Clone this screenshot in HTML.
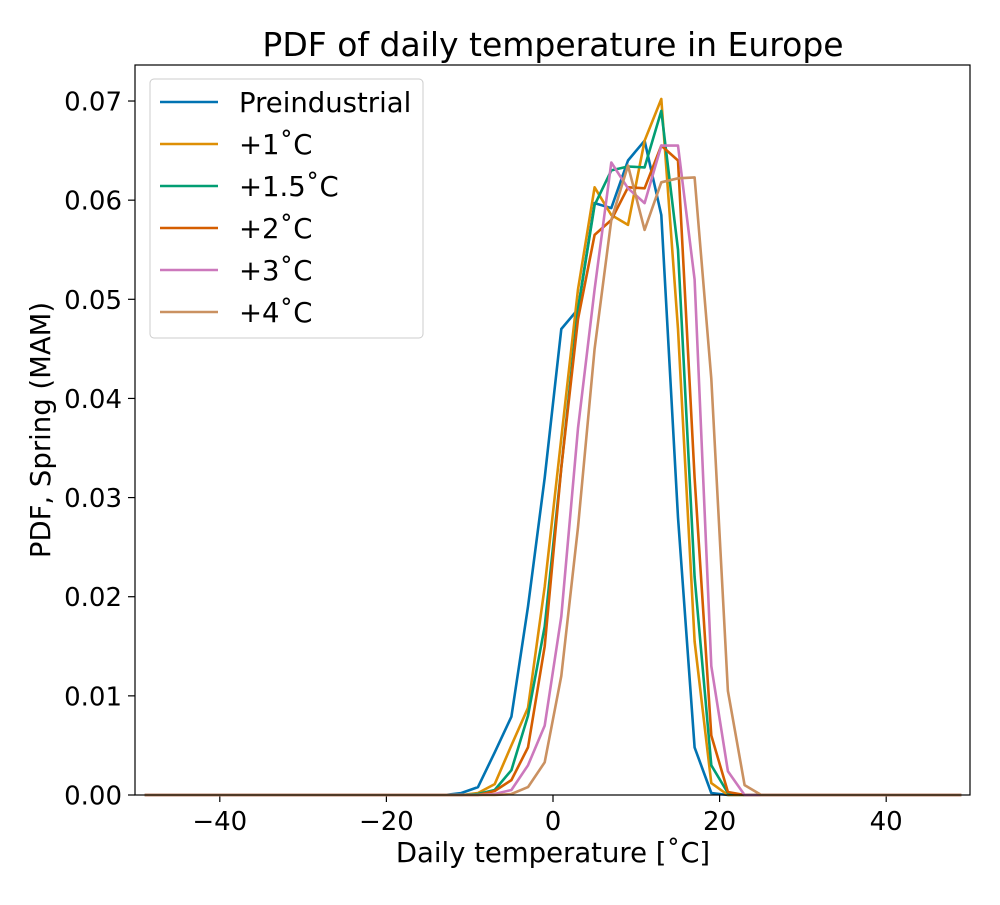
<!DOCTYPE html>
<html><head><meta charset="utf-8"><style>
body{margin:0;background:#fff;font-family:"Liberation Sans","DejaVu Sans",sans-serif;}
</style></head><body>
<svg id="chart" width="1000" height="900" font-family="DejaVu Sans, Liberation Sans, sans-serif">
<rect width="1000" height="900" fill="#fff"/>
<text x="553" y="56" font-size="33" text-anchor="middle">PDF of daily temperature in Europe</text>
<g id="ticks"></g>
<g id="lines"></g>
<rect x="135" y="65" width="835" height="730" fill="none" stroke="#000" stroke-width="1.2"/>
<text x="553" y="862" font-size="27.5" text-anchor="middle">Daily temperature [˚C]</text>
<text transform="translate(50,430) rotate(-90)" font-size="27.5" text-anchor="middle">PDF, Spring (MAM)</text>
<g id="legend"></g>
</svg>
<script>
const temps = [-11,-9,-7,-5,-3,-1,1,3,5,7,9,11,13,15,17,19,21,23,25];
const seriesNames = ["Preindustrial","+1˚C","+1.5˚C","+2˚C","+3˚C","+4˚C"];
const seriesColors = ["#0173b2","#de8f05","#029e73","#d55e00","#cc78bc","#ca9161"];
const preindustrial = [0.0002,0.0008,0.0043,0.0079,0.019,0.032,0.047,0.049,0.0597,0.0592,0.064,0.066,0.0585,0.028,0.0048,0.0002,0,0,0];
const plus1 = [0,0.0002,0.0011,0.005,0.0088,0.021,0.036,0.051,0.0613,0.0585,0.0575,0.066,0.0702,0.047,0.0155,0.0012,0,0,0];
const plus15 = [0,0.0001,0.0005,0.0025,0.008,0.017,0.033,0.049,0.0595,0.063,0.0634,0.0633,0.069,0.055,0.022,0.003,0.0002,0,0];
const plus2 = [0,0,0.0004,0.0015,0.0048,0.015,0.033,0.048,0.0565,0.058,0.0613,0.0612,0.0655,0.064,0.032,0.006,0.0003,0,0];
const plus3 = [0,0,0.0001,0.0005,0.003,0.007,0.018,0.037,0.051,0.0638,0.0612,0.0597,0.0655,0.0655,0.052,0.013,0.0024,0,0];
const plus4 = [0,0,0,0.0001,0.0008,0.0033,0.012,0.027,0.045,0.058,0.0635,0.057,0.0618,0.0622,0.0623,0.042,0.0105,0.001,0];
const allSeries = [preindustrial,plus1,plus15,plus2,plus3,plus4];
const xTicks = [-40,-20,0,20,40];
const yTicks = [0,0.01,0.02,0.03,0.04,0.05,0.06,0.07];
const xRange = [-49,49];

const NS="http://www.w3.org/2000/svg";
const X = t => 553 + 8.33*t;
const Y = v => 795 - v*9914;
function mk(tag, attrs){const e=document.createElementNS(NS,tag);for(const k in attrs)e.setAttribute(k,attrs[k]);return e;}
const tg=document.getElementById('ticks');
xTicks.forEach(t=>{
  const l=mk('line',{x1:X(t),x2:X(t),y1:795,y2:802,stroke:'#000','stroke-width':1.2});
  
  
  tg.appendChild(l);
  const s=mk('text',{x:X(t),y:830,'font-size':26,'text-anchor':'middle'});
  s.textContent=(t<0?'\u2212'+(-t):t);
  
  
  tg.appendChild(s);
});
yTicks.forEach(v=>{
  const l=mk('line',{x1:128,x2:135,y1:Y(v),y2:Y(v),stroke:'#000','stroke-width':1.2});
  
  
  tg.appendChild(l);
  const s=mk('text',{x:122,y:Y(v)+9.5,'font-size':26,'text-anchor':'end'});
  s.textContent=v.toFixed(2);
  
  
  tg.appendChild(s);
});
const lg=document.getElementById('lines');
allSeries.forEach((vals,i)=>{
  const pts=[];
  for(let t=xRange[0];t<temps[0];t+=2)pts.push([t,0]);
  temps.forEach((t,j)=>pts.push([t,vals[j]]));
  for(let t=temps[temps.length-1]+2;t<=xRange[1];t+=2)pts.push([t,0]);
  const p=mk('polyline',{points:pts.map(q=>X(q[0]).toFixed(1)+','+Y(q[1]).toFixed(1)).join(' '),fill:'none',stroke:seriesColors[i],'stroke-width':2.6,'stroke-linejoin':'round'});
  
  
  lg.appendChild(p);
});
const leg=document.getElementById('legend');
const box=mk('rect',{x:150,y:79,width:273,height:259,rx:4,fill:'#fff','fill-opacity':0.8,stroke:'#ccc','stroke-width':1});


leg.appendChild(box);
seriesNames.forEach((n,i)=>{
  const y=102+42*i;
  const l=mk('line',{x1:160,x2:218,y1:y,y2:y,stroke:seriesColors[i],'stroke-width':2.6});
  
  
  leg.appendChild(l);
  const s=mk('text',{x:239,y:y+10,'font-size':27.5});
  s.textContent=n;
  
  
  leg.appendChild(s);
});
</script>
</body></html>
